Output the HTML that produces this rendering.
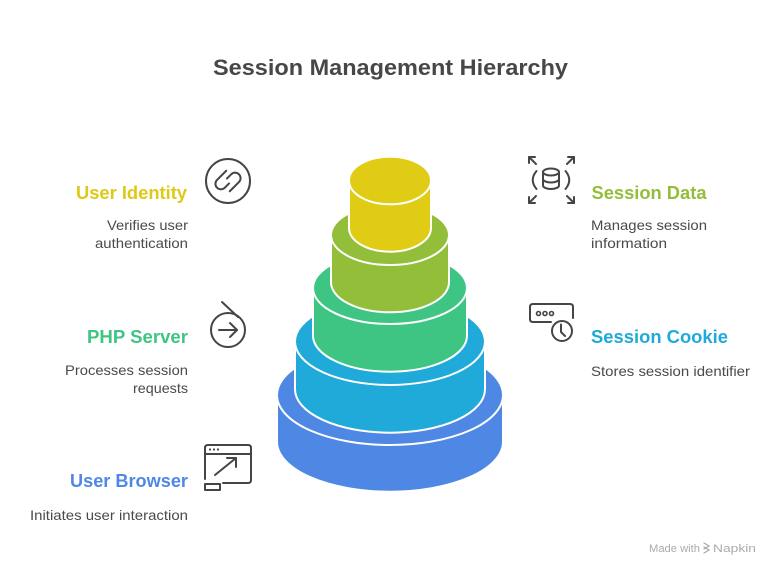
<!DOCTYPE html>
<html>
<head>
<meta charset="utf-8">
<style>
  html, body { margin: 0; padding: 0; background: #ffffff; }
  body { width: 780px; height: 576px; overflow: hidden; }
  svg { display: block; }
  .h { font-family: "Liberation Sans", sans-serif; font-weight: bold; font-size: 18px; }
  .b { font-family: "Liberation Sans", sans-serif; font-size: 14px; fill: #4a4a4a; }
  .ic { fill: none; stroke: #454545; stroke-width: 2; stroke-linecap: round; stroke-linejoin: round; }
</style>
</head>
<body>
<svg width="780" height="576" viewBox="0 0 780 576" xmlns="http://www.w3.org/2000/svg">
  <rect width="780" height="576" fill="#ffffff"/>

  <!-- Title -->
  <text x="213" y="75" textLength="355" lengthAdjust="spacingAndGlyphs"
        style="font-family:'Liberation Sans',sans-serif;font-weight:bold;font-size:22px;fill:#474747;">Session Management Hierarchy</text>

  <!-- Cylinders (bottom to top) -->
  <g stroke="#ffffff" stroke-width="2">
    <path d="M277,395 L277,441.7 A113,50 0 0 0 503,441.7 L503,395 Z" fill="#4F88E4"/>
    <ellipse cx="390" cy="395" rx="113" ry="50" fill="#4F88E4"/>
    <path d="M295,341.5 L295,389.2 A95,43.5 0 0 0 485,389.2 L485,341.5 Z" fill="#1FAAD9"/>
    <ellipse cx="390" cy="341.5" rx="95" ry="43.5" fill="#1FAAD9"/>
    <path d="M313,288 L313,335.7 A77,36 0 0 0 467,335.7 L467,288 Z" fill="#3EC583"/>
    <ellipse cx="390" cy="288" rx="77" ry="36" fill="#3EC583"/>
    <path d="M331,235 L331,282.3 A59,30 0 0 0 449,282.3 L449,235 Z" fill="#93BE3A"/>
    <ellipse cx="390" cy="235" rx="59" ry="30" fill="#93BE3A"/>
    <path d="M349,180.5 L349,227.9 A41,23.8 0 0 0 431,227.9 L431,180.5 Z" fill="#E0CB15"/>
    <ellipse cx="390" cy="180.5" rx="41" ry="23.8" fill="#E0CB15"/>
  </g>

  <!-- Left labels -->
  <text class="h" x="76" y="199" textLength="111" lengthAdjust="spacingAndGlyphs" fill="#DEC916">User Identity</text>
  <text class="b" x="107" y="230" textLength="81" lengthAdjust="spacingAndGlyphs">Verifies user</text>
  <text class="b" x="95" y="248" textLength="93" lengthAdjust="spacingAndGlyphs">authentication</text>

  <text class="h" x="87" y="343" textLength="101" lengthAdjust="spacingAndGlyphs" fill="#3EC583">PHP Server</text>
  <text class="b" x="65" y="375" textLength="123" lengthAdjust="spacingAndGlyphs">Processes session</text>
  <text class="b" x="133" y="393" textLength="55" lengthAdjust="spacingAndGlyphs">requests</text>

  <text class="h" x="70" y="487" textLength="118" lengthAdjust="spacingAndGlyphs" fill="#4F88E4">User Browser</text>
  <text class="b" x="30" y="520" textLength="158" lengthAdjust="spacingAndGlyphs">Initiates user interaction</text>

  <!-- Right labels -->
  <text class="h" x="591.5" y="199" textLength="115" lengthAdjust="spacingAndGlyphs" fill="#93BE3A">Session Data</text>
  <text class="b" x="591" y="230" textLength="116" lengthAdjust="spacingAndGlyphs">Manages session</text>
  <text class="b" x="591" y="248" textLength="76" lengthAdjust="spacingAndGlyphs">information</text>

  <text class="h" x="591" y="343" textLength="137" lengthAdjust="spacingAndGlyphs" fill="#1FAAD9">Session Cookie</text>
  <text class="b" x="591" y="376" textLength="159" lengthAdjust="spacingAndGlyphs">Stores session identifier</text>

  <!-- Icon: User Identity (link in circle) -->
  <g class="ic">
    <circle cx="228" cy="181" r="22"/>
    <g transform="translate(228,181) rotate(-45)">
      <path d="M6,-8.5 H-7 A5.5,5.5 0 0 0 -7,2.5 H-1"/>
      <path d="M-6,8.5 H7 A5.5,5.5 0 0 0 7,-2.5 H1"/>
    </g>
  </g>

  <!-- Icon: PHP Server -->
  <g class="ic">
    <circle cx="228" cy="330" r="17"/>
    <path d="M222,302 L238,317"/>
    <path d="M219,330 H237"/>
    <path d="M230,323 L237,330 L230,337"/>
  </g>

  <!-- Icon: User Browser -->
  <g class="ic">
    <path d="M205,479 V448 Q205,445 208,445 H248 Q251,445 251,448 V480 Q251,483 248,483 H223"/>
    <path d="M205,454 H251"/>
    <rect x="205" y="484" width="15" height="6"/>
    <path d="M215,475 L236,458"/>
    <path d="M227,458 H236 V467"/>
  </g>
  <g fill="#454545">
    <circle cx="210" cy="449.5" r="1.1"/>
    <circle cx="214" cy="449.5" r="1.1"/>
    <circle cx="218" cy="449.5" r="1.1"/>
  </g>

  <!-- Icon: Session Data -->
  <g class="ic">
    <ellipse cx="551" cy="172" rx="8" ry="3.5"/>
    <path d="M543,172 V185.5 A8,3.5 0 0 0 559,185.5 V172"/>
    <path d="M543,179 A8,3.5 0 0 0 559,179"/>
    <path d="M536.5,171 Q529,180 536.5,189"/>
    <path d="M565.5,171 Q573,180 565.5,189"/>
    <path d="M529,157 L536,164"/><path d="M529,163 V157 H535"/>
    <path d="M574,157 L567,164"/><path d="M568,157 H574 V163"/>
    <path d="M529,203 L536,196"/><path d="M529,197 V203 H535"/>
    <path d="M574,203 L567,196"/><path d="M574,197 V203 H568"/>
  </g>

  <!-- Icon: Session Cookie -->
  <g class="ic">
    <path d="M551,322 H533 Q530,322 530,319 V307 Q530,304 533,304 H570 Q573,304 573,307 V318"/>
    <circle cx="562" cy="331" r="10"/>
    <path d="M561,324.5 V332 L565,336"/>
  </g>
  <g fill="none" stroke="#454545" stroke-width="1.6">
    <circle cx="538.5" cy="313.5" r="2"/>
    <circle cx="545" cy="313.5" r="2"/>
    <circle cx="551.5" cy="313.5" r="2"/>
  </g>

  <!-- Footer -->
  <text x="649" y="552" textLength="51" lengthAdjust="spacingAndGlyphs"
        style="font-family:'Liberation Sans',sans-serif;font-size:11px;fill:#ababab;">Made with</text>
  <g fill="none" stroke="#ababab" stroke-width="1.3" stroke-linecap="round">
    <path d="M704,543 L709,546 L704,549"/>
    <path d="M704,547 L709,550 L704,553"/>
  </g>
  <text x="713" y="552" textLength="43" lengthAdjust="spacingAndGlyphs"
        style="font-family:'Liberation Sans',sans-serif;font-size:11px;fill:#ababab;">Napkin</text>
</svg>
</body>
</html>
